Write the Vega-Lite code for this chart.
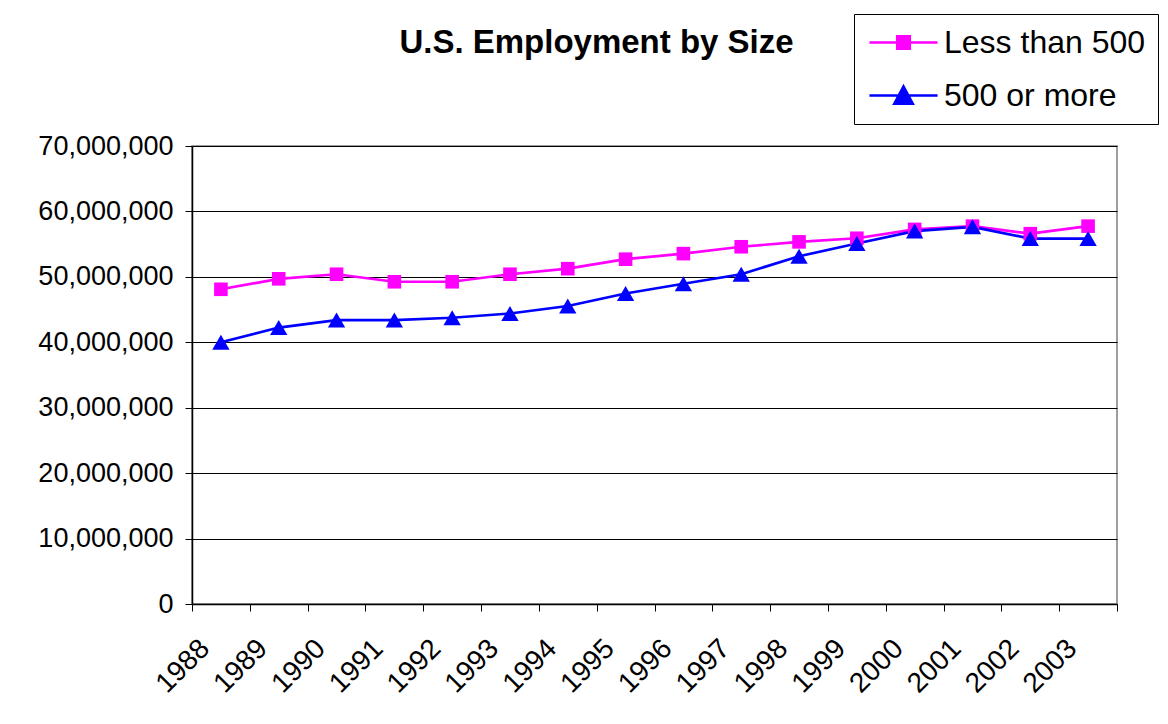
{
  "$schema": "https://vega.github.io/schema/vega-lite/v6.json",
  "width": 925,
  "height": 458,
  "autosize": "none",
  "padding": {"left": 192, "top": 146, "right": 51, "bottom": 120},
  "background": "white",
  "title": {
    "text": "U.S. Employment by Size",
    "font": "Liberation Sans",
    "fontSize": 33,
    "fontWeight": "bold",
    "color": "black",
    "anchor": "middle",
    "frame": "group",
    "dx": -58,
    "baseline": "alphabetic",
    "offset": 0,
    "dy": 72
  },
  "config": {
    "font": "Liberation Sans",
    "view": {"stroke": "#808080", "strokeWidth": 1.5}
  },
  "data": {
    "values": [
      {"year": "1988", "series": "Less than 500", "value": 48100000},
      {"year": "1989", "series": "Less than 500", "value": 49700000},
      {"year": "1990", "series": "Less than 500", "value": 50400000},
      {"year": "1991", "series": "Less than 500", "value": 49250000},
      {"year": "1992", "series": "Less than 500", "value": 49250000},
      {"year": "1993", "series": "Less than 500", "value": 50400000},
      {"year": "1994", "series": "Less than 500", "value": 51250000},
      {"year": "1995", "series": "Less than 500", "value": 52700000},
      {"year": "1996", "series": "Less than 500", "value": 53550000},
      {"year": "1997", "series": "Less than 500", "value": 54600000},
      {"year": "1998", "series": "Less than 500", "value": 55350000},
      {"year": "1999", "series": "Less than 500", "value": 55900000},
      {"year": "2000", "series": "Less than 500", "value": 57250000},
      {"year": "2001", "series": "Less than 500", "value": 57750000},
      {"year": "2002", "series": "Less than 500", "value": 56600000},
      {"year": "2003", "series": "Less than 500", "value": 57750000},
      {"year": "1988", "series": "500 or more", "value": 40000000},
      {"year": "1989", "series": "500 or more", "value": 42250000},
      {"year": "1990", "series": "500 or more", "value": 43400000},
      {"year": "1991", "series": "500 or more", "value": 43400000},
      {"year": "1992", "series": "500 or more", "value": 43750000},
      {"year": "1993", "series": "500 or more", "value": 44400000},
      {"year": "1994", "series": "500 or more", "value": 45550000},
      {"year": "1995", "series": "500 or more", "value": 47450000},
      {"year": "1996", "series": "500 or more", "value": 48950000},
      {"year": "1997", "series": "500 or more", "value": 50400000},
      {"year": "1998", "series": "500 or more", "value": 53150000},
      {"year": "1999", "series": "500 or more", "value": 55100000},
      {"year": "2000", "series": "500 or more", "value": 57000000},
      {"year": "2001", "series": "500 or more", "value": 57650000},
      {"year": "2002", "series": "500 or more", "value": 55850000},
      {"year": "2003", "series": "500 or more", "value": 55850000}
    ]
  },
  "encoding": {
    "x": {
      "field": "year",
      "type": "ordinal",
      "scale": {"type": "band", "paddingInner": 0, "paddingOuter": 0},
      "axis": {
        "title": null,
        "labelAngle": -45,
        "labelAlign": "right",
        "labelBaseline": "middle",
        "labelFontSize": 28,
        "labelColor": "black",
        "labelPadding": 33,
        "labelOffset": -16,
        "domainColor": "black",
        "domainWidth": 1.5,
        "tickColor": "black",
        "tickSize": 7,
        "tickBand": "extent",
        "grid": false
      }
    },
    "y": {
      "field": "value",
      "type": "quantitative",
      "scale": {"domain": [0, 70000000], "nice": false},
      "axis": {
        "title": null,
        "values": [0, 10000000, 20000000, 30000000, 40000000, 50000000, 60000000, 70000000],
        "format": ",d",
        "labelFontSize": 27,
        "labelColor": "black",
        "labelPadding": 12,
        "domainColor": "black",
        "domainWidth": 1.5,
        "tickColor": "black",
        "tickSize": 7,
        "grid": true,
        "gridColor": "black",
        "gridWidth": 1,
        "gridOpacity": 1
      }
    }
  },
  "layer": [
    {
      "mark": {"type": "line", "strokeWidth": 2.7},
      "encoding": {
        "color": {
          "field": "series",
          "type": "nominal",
          "sort": ["Less than 500", "500 or more"],
          "scale": {"domain": ["Less than 500", "500 or more"], "range": ["#FF00FF", "#0000FF"]},
          "legend": {
            "title": null,
            "orient": "none",
            "legendX": 662,
            "legendY": -132,
            "strokeColor": "black",
            "fillColor": "white",
            "padding": 12,
            "labelFont": "Liberation Sans",
            "labelFontSize": 32,
            "labelColor": "black",
            "labelLimit": 400,
            "labelOffset": 24,
            "symbolSize": 900,
            "symbolOffset": 21,
            "symbolStrokeWidth": 2.5,
            "rowPadding": 20,
            "encode": {
              "symbols": {
                "update": {
                  "shape": {"signal": "datum.value === 'Less than 500' ? 'M-2.27,0H2.27M-0.42,-0.42H0.42V0.42H-0.42Z' : 'M-2.27,0H2.27M-0.62,0.55L0,-0.6L0.62,0.55Z'"},
                  "fill": {"signal": "datum.value === 'Less than 500' ? '#FF00FF' : '#0000FF'"},
                  "fillOpacity": {"value": 1},
                  "stroke": {"signal": "datum.value === 'Less than 500' ? '#FF00FF' : '#0000FF'"},
                  "strokeWidth": {"value": 2.5}
                }
              }
            }
          }
        }
      }
    },
    {
      "transform": [{"filter": "datum.series === 'Less than 500'"}],
      "mark": {"type": "point", "filled": true, "opacity": 1, "shape": "square", "size": 185},
      "encoding": {
        "color": {"field": "series", "type": "nominal", "legend": null}
      }
    },
    {
      "transform": [{"filter": "datum.series === '500 or more'"}],
      "mark": {"type": "point", "filled": true, "opacity": 1, "shape": "triangle-up", "size": 300},
      "encoding": {
        "color": {"field": "series", "type": "nominal", "legend": null}
      }
    }
  ]
}
